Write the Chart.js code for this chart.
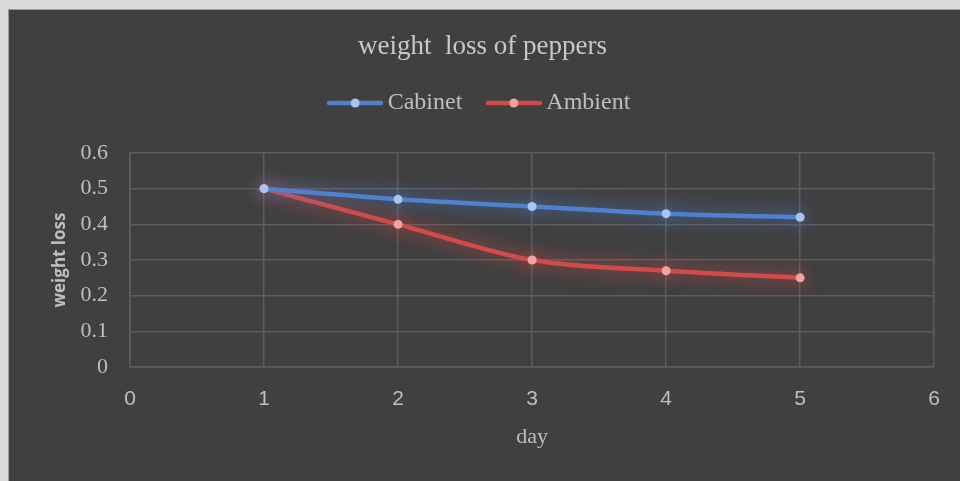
<!DOCTYPE html>
<html>
<head>
<meta charset="utf-8">
<script src="https://cdn.jsdelivr.net/npm/chart.js@4/dist/chart.umd.min.js"></script>
<style>
  body { margin: 0; background: #d9d9d9; }
  canvas { display: block; }
</style>
</head>
<body>
<canvas id="pepperChart" width="960" height="481"></canvas>
<script>
// values
const days = [1, 2, 3, 4, 5];
const cabinet = [0.5, 0.47, 0.45, 0.43, 0.42];
const ambient = [0.5, 0.40, 0.30, 0.27, 0.25];
const xTicks = [0, 1, 2, 3, 4, 5, 6];
const yTicks = [0, 0.1, 0.2, 0.3, 0.4, 0.5, 0.6];

const blue = '#4f81d0';
const blueDot = '#a9c4ef';
const red = '#d24a4a';
const redDot = '#f0a3a3';
const textColor = '#bfbfbf';
const gridColor = '#5d5d5d';

// legend marker: short line with a dot in the middle
const legendMarker = (line, dot) => {
    const c = document.createElement('canvas');
    c.width = 56;
    c.height = 12;
    const g = c.getContext('2d');
    g.strokeStyle = line;
    g.lineWidth = 4.5;
    g.lineCap = 'round';
    g.beginPath();
    g.moveTo(2, 6);
    g.lineTo(54, 6);
    g.stroke();
    g.fillStyle = dot;
    g.beginPath();
    g.arc(28, 6, 4.5, 0, Math.PI * 2);
    g.fill();
    return c;
};
const markers = [legendMarker(blue, blueDot), legendMarker(red, redDot)];

const toPoints = (vals) => days.map((d, i) => ({ x: d, y: vals[i] }));

const panel = {
    id: 'panel',
    beforeDraw(chart) {
        const ctx = chart.ctx;
        ctx.save();
        ctx.fillStyle = '#d9d9d9';
        ctx.fillRect(0, 0, chart.width, chart.height);
        ctx.fillStyle = '#9a9a9a';
        ctx.fillRect(8, 9, chart.width, chart.height);
        ctx.fillStyle = '#404040';
        ctx.fillRect(9, 10, chart.width, chart.height);
        ctx.restore();
    }
};

const glow = {
    id: 'glow',
    beforeDatasetDraw(chart, args) {
        const ds = chart.data.datasets[args.index];
        chart.ctx.save();
        chart.ctx.shadowColor = ds.glowColor;
        chart.ctx.shadowBlur = 18;
    },
    afterDatasetDraw(chart) {
        chart.ctx.restore();
    }
};

new Chart(document.getElementById('pepperChart'), {
    type: 'line',
    data: {
        datasets: [{
            label: 'Cabinet',
            data: toPoints(cabinet),
            borderColor: blue,
            backgroundColor: blueDot,
            glowColor: 'rgba(79,129,208,1)',
            borderWidth: 4.5,
            pointRadius: 4.5,
            pointBorderWidth: 0,
            pointBackgroundColor: blueDot,
            cubicInterpolationMode: 'monotone',
        }, {
            label: 'Ambient',
            data: toPoints(ambient),
            borderColor: red,
            backgroundColor: redDot,
            glowColor: 'rgba(210,74,74,1)',
            borderWidth: 4.5,
            pointRadius: 4.5,
            pointBorderWidth: 0,
            pointBackgroundColor: redDot,
            cubicInterpolationMode: 'monotone',
        }]
    },
    options: {
        responsive: false,
        animation: false,
        layout: {
            padding: { left: 30, right: 25, top: 0, bottom: 0 }
        },
        scales: {
            x: {
                type: 'linear',
                min: 0,
                max: 6,
                afterBuildTicks: (axis) => { axis.ticks = xTicks.map(v => ({ value: v })); },
                afterFit: (axis) => { axis.height = 114; },
                grid: { color: gridColor, lineWidth: 1.5, drawTicks: false },
                border: { color: gridColor, width: 1.5 },
                ticks: {
                    color: textColor,
                    padding: 20,
                    font: { family: "'Liberation Sans Narrow', 'Liberation Sans'", size: 21 }
                },
                title: {
                    display: true,
                    text: 'day',
                    color: textColor,
                    padding: { top: 0, bottom: 31 },
                    font: { family: "'Liberation Serif'", size: 22 }
                }
            },
            y: {
                min: 0,
                max: 0.6,
                afterBuildTicks: (axis) => { axis.ticks = yTicks.map(v => ({ value: v })); },
                afterFit: (axis) => { axis.width = 100; },
                grid: { color: gridColor, lineWidth: 1.5, drawTicks: false },
                border: { color: gridColor, width: 1.5 },
                ticks: {
                    color: textColor,
                    padding: 22,
                    font: { family: "'Liberation Serif'", size: 22 }
                },
                title: {
                    display: true,
                    text: 'weight loss',
                    color: textColor,
                    padding: { top: 20, bottom: 0 },
                    font: { family: "'Open Sans'", size: 17, weight: 'bold' }
                }
            }
        },
        plugins: {
            title: {
                display: true,
                text: 'weight  loss of peppers',
                color: '#c8c8c8',
                padding: { top: 33, bottom: 0 },
                font: { family: "'Liberation Serif'", size: 27, weight: 'normal', lineHeight: 1 }
            },
            subtitle: {
                display: true,
                text: '',
                weight: 500,
                padding: { top: 0, bottom: 27 },
                font: { size: 1, lineHeight: 1 }
            },
            legend: {
                labels: {
                    color: textColor,
                    usePointStyle: true,
                    pointStyleWidth: 41,
                    padding: 31,
                    font: { family: "'Liberation Serif'", size: 24 },
                    generateLabels: (chart) => {
                        const items = Chart.defaults.plugins.legend.labels.generateLabels(chart);
                        items.forEach((item, i) => { item.pointStyle = markers[i]; });
                        return items;
                    }
                }
            },
            tooltip: { enabled: false }
        }
    },
    plugins: [panel, glow]
});
</script>
</body>
</html>
